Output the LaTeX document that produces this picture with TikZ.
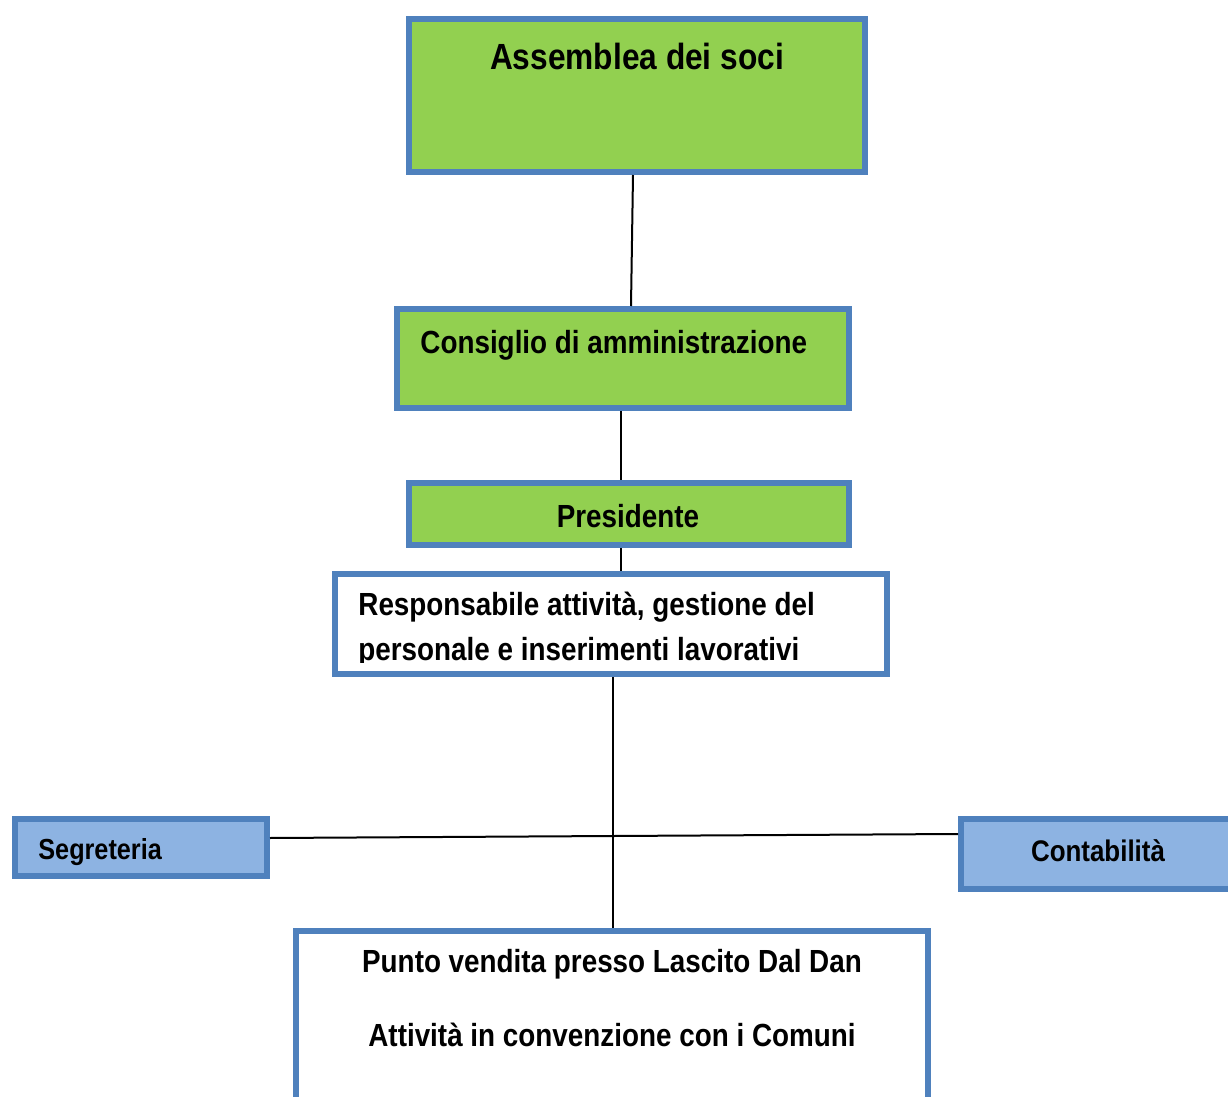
\documentclass[tikz,border=0pt]{standalone}
\usepackage{fontspec}
\setmainfont{Liberation Sans}[FakeStretch=0.87]
\usepackage{xcolor}
\usepackage{tikz}
\definecolor{frameblue}{HTML}{4F81BD}
\definecolor{boxgreen}{HTML}{92D050}
\definecolor{boxblue}{HTML}{8DB3E2}
\newdimen\pxu \pxu=0.5pt
\tikzset{
    box/.style={draw=frameblue, line width=6\pxu, rectangle, inner sep=0pt},
    greenbox/.style={box, fill=boxgreen},
    bluebox/.style={box, fill=boxblue},
    whitebox/.style={box, fill=white},
    txt/.style={inner sep=0pt, font=\fontsize{16}{22.5}\selectfont\bfseries},
    link/.style={line width=2\pxu, black}
}
\begin{document}
\begin{tikzpicture}[x=0.5pt, y=-0.5pt]
    \useasboundingbox (0,0) rectangle (1228,1097);

    % Boxes
    \node[greenbox, minimum width=456\pxu, minimum height=153\pxu] (asm) at (637,95.5) {};
    \node[greenbox, minimum width=452\pxu, minimum height=99\pxu] (cda) at (623,358.5) {};
    \node[greenbox, minimum width=440\pxu, minimum height=62\pxu] (pres) at (629,514) {};
    \node[whitebox, minimum width=552\pxu, minimum height=100\pxu] (resp) at (611,624) {};
    \node[bluebox, minimum width=252\pxu, minimum height=57\pxu] (segr) at (141,847.5) {};
    \node[bluebox, minimum width=276\pxu, minimum height=70\pxu] (cont) at (1099,854) {};
    \node[whitebox, minimum width=632\pxu, minimum height=176\pxu] (punto) at (612,1019) {};

    % Texts
    \node[txt, font=\fontsize{18.2}{22}\selectfont\bfseries] (asm-t) at (637,56) {Assemblea dei soci};
    \node[txt, anchor=west] (cda-t) at (420,345) {Consiglio di amministrazione};
    \node[txt] (pres-t) at (628,516) {Presidente};
    \begin{scope}
        \clip (340,578) rectangle (880,662);
        \node[txt, anchor=north west, align=left] (resp-t) at (358,592)
            {Responsabile attività, gestione del\\personale e inserimenti lavorativi};
    \end{scope}
    \node[txt, font=\fontsize{14.5}{17}\selectfont\bfseries, anchor=west] (segr-t) at (38,852) {Segreteria};
    \node[txt, font=\fontsize{14.9}{17}\selectfont\bfseries] (cont-t) at (1098,851) {Contabilità};
    \node[txt] (punto-t1) at (612,964) {Punto vendita presso Lascito Dal Dan};
    \node[txt] (punto-t2) at (612,1035) {Attività in convenzione con i Comuni};

    % Lines
    \draw[link] ([xshift=-4\pxu]asm.south) -- ([xshift=8\pxu]cda.north);
    \draw[link] ([xshift=-2\pxu]cda.south) -- ([xshift=-8\pxu]pres.north);
    \draw[link] ([xshift=-8\pxu]pres.south) -- ([xshift=10\pxu]resp.north);
    \draw[link] ([xshift=2\pxu]resp.south) -- ([xshift=1\pxu]punto.north);
    \draw[link] ([yshift=9.5\pxu]segr.east) -- ([yshift=20\pxu]cont.west);
\end{tikzpicture}
\end{document}
